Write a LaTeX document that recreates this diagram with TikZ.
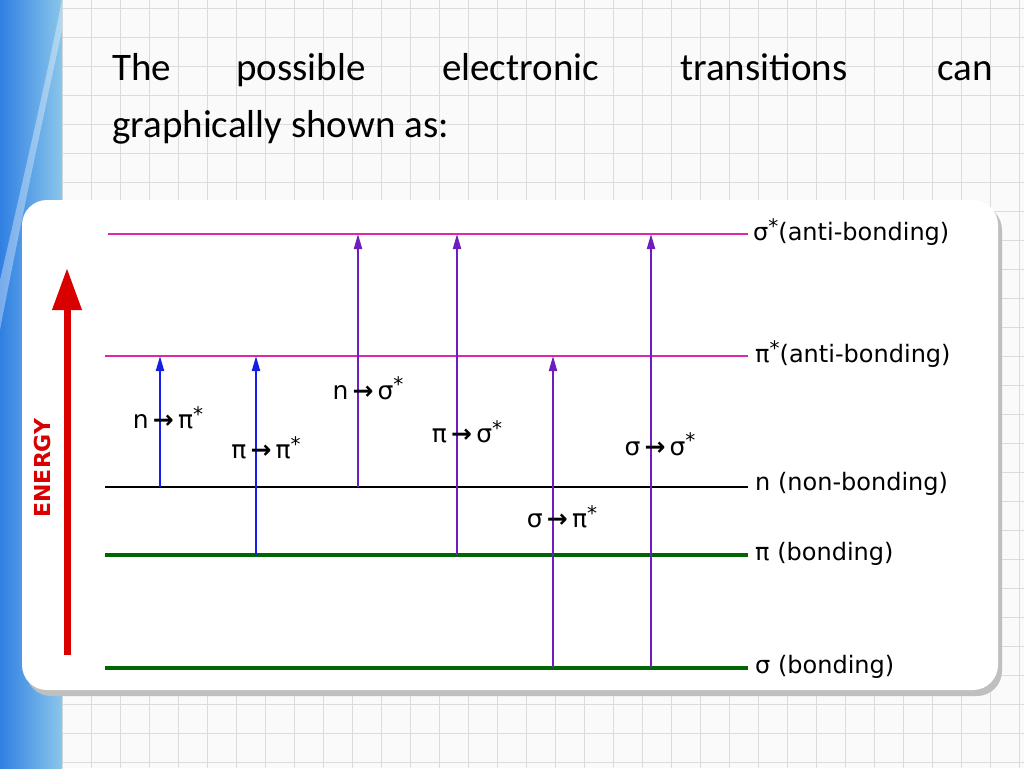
\documentclass[tikz,border=0pt]{standalone}
\usepackage{fontspec}
\setmainfont{Carlito}
\newfontfamily\lbl{DejaVu Sans}
\usetikzlibrary{arrows.meta}
\definecolor{magl}{RGB}{220,40,170}
\definecolor{blu}{RGB}{20,30,230}
\definecolor{pur}{RGB}{110,30,190}
\definecolor{strip}{RGB}{60,160,220}
\newcommand{\st}{\raisebox{0.55ex}{\fontsize{20}{20}\selectfont *}}
\newcommand{\ar}{\,{\bfseries →}\,}
\tikzset{lvl/.style={line width=1.6pt},
 tr/.style={line width=2pt,-{Triangle[length=15pt,width=8pt]}},
 lab/.style={font=\lbl\fontsize{24}{26}\selectfont,anchor=west,inner sep=0pt},
 tlab/.style={font=\lbl\fontsize{25}{28}\selectfont,inner sep=0pt},
 ttl/.style={font=\fontsize{39}{46}\selectfont,inner sep=0pt}}
\begin{document}
\begin{tikzpicture}[x=1pt,y=-1pt]
\useasboundingbox (0,0) rectangle (1024,768);
\fill[white!96!gray] (0,0) rectangle (1024,768);
\foreach \i in {0,...,34} {\draw[black!14,line width=0.8pt] (62+\i*29,0) -- (62+\i*29,768);}
\foreach \j in {0,...,26} {\draw[black!14,line width=0.8pt] (62,8+\j*29) -- (1024,8+\j*29);}
\shade[left color=strip!80!blue,right color=strip!60!white] (0,0) rectangle (62,768);
\fill[white,opacity=0.35] (0,280) .. controls (30,150) and (50,60) .. (62,0) -- (62,30) .. controls (45,110) and (25,200) .. (0,330) -- cycle;
\node[ttl,anchor=base west] (t1) at (112,80) {The};
\node[ttl,anchor=base west] (t2) at (236,80) {possible};
\node[ttl,anchor=base west] (t3) at (442,80) {electronic};
\node[ttl,anchor=base west] (t4) at (680,80) {transitions};
\node[ttl,anchor=base east] (t5) at (993,80) {can};
\node[ttl,anchor=base west] (t6) at (112,137) {graphically shown as:};
\fill[black!25,rounded corners=25pt] (26,205) rectangle (1002,696);
\fill[white,rounded corners=25pt] (22,200) rectangle (998,690);
\coordinate (s1) at (108,234); \coordinate (s2) at (748,234);
\coordinate (p1) at (105,356); \coordinate (p2) at (748,356);
\coordinate (n1) at (105,487); \coordinate (n2) at (748,487);
\coordinate (b1) at (105,555); \coordinate (b2) at (748,555);
\coordinate (g1) at (105,668); \coordinate (g2) at (748,668);
\draw[lvl,magl] (s1) -- (s2); \draw[lvl,magl] (p1) -- (p2);
\draw[lvl,black] (n1) -- (n2);
\draw[green!40!black,line width=3.2pt] (b1) -- (b2);
\draw[green!40!black,line width=3.2pt] (g1) -- (g2);
\node[lab] (ls) at (753,232) {σ\st(anti-bonding)};
\node[lab] (lp) at (755,354) {π\st(anti-bonding)};
\node[lab] (ln) at (755,484) {n (non-bonding)};
\node[lab] (lb) at (755,554) {π (bonding)};
\node[lab] (lg) at (755,667) {σ (bonding)};
\coordinate (a1) at (160,487); \coordinate (a1e) at (160,356);
\coordinate (a2) at (256,555); \coordinate (a2e) at (256,356);
\coordinate (a3) at (358,487); \coordinate (a3e) at (358,234);
\coordinate (a4) at (457,555); \coordinate (a4e) at (457,234);
\coordinate (a5) at (553,668); \coordinate (a5e) at (553,356);
\coordinate (a6) at (651,668); \coordinate (a6e) at (651,234);
\draw[tr,blu] (a1) -- (a1e); \draw[tr,blu] (a2) -- (a2e);
\draw[tr,pur] (a3) -- (a3e); \draw[tr,pur] (a4) -- (a4e);
\draw[tr,pur] (a5) -- (a5e); \draw[tr,pur] (a6) -- (a6e);
\node[tlab] (l1) at (168,418) {n\ar π\st};
\node[tlab] (l2) at (266,448) {π\ar π\st};
\node[tlab] (l3) at (368,388) {n\ar σ\st};
\node[tlab] (l4) at (467,432) {π\ar σ\st};
\node[tlab] (l5) at (562,517) {σ\ar π\st};
\node[tlab] (l6) at (660,444) {σ\ar σ\st};
\coordinate (e1) at (67,655); \coordinate (e2) at (67,268);
\draw[red!85!black,line width=7pt,-{Triangle[length=42pt,width=28pt]}] (e1) -- (e2);
\node[rotate=90,text=red!85!black,font=\lbl\bfseries\fontsize{22}{24}\selectfont] (en) at (42,468) {ENERGY};
\end{tikzpicture}
\end{document}
